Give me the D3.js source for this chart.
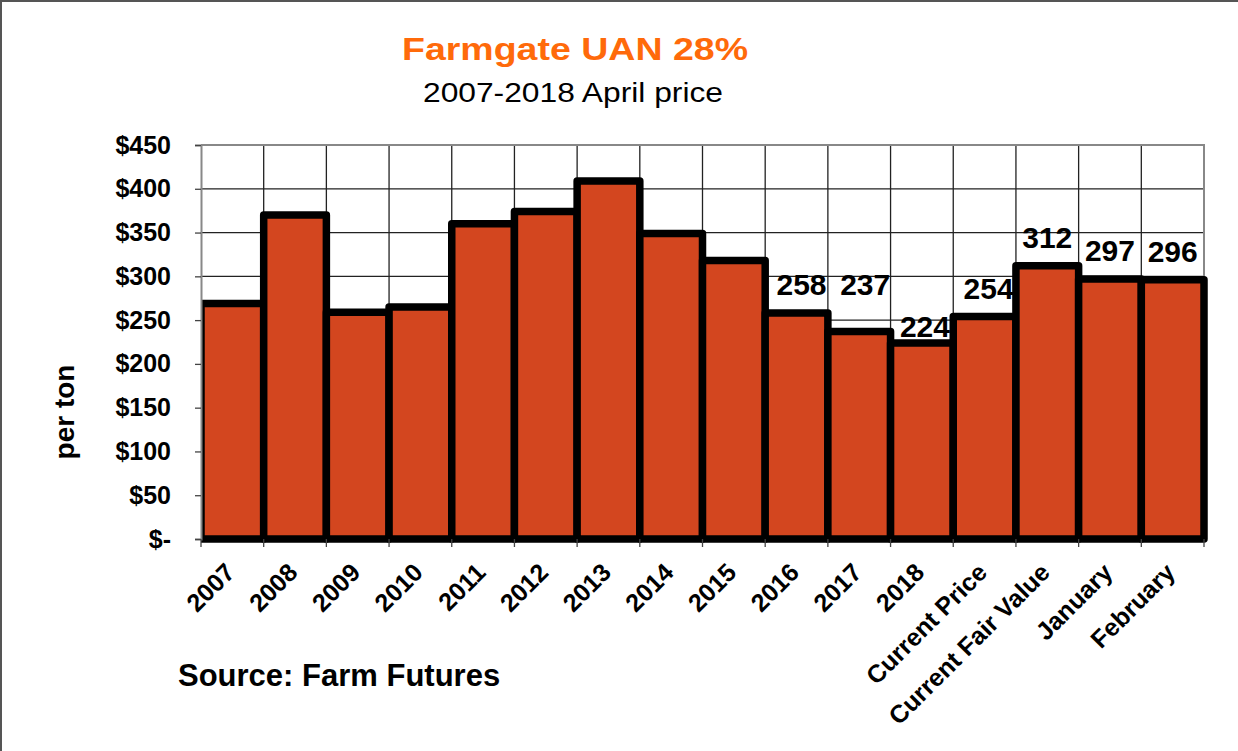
<!DOCTYPE html>
<html>
<head>
<meta charset="utf-8">
<script src="https://cdn.jsdelivr.net/npm/d3@7"></script>
<style>
  body { margin: 0; background: #fff; }
  text { font-family: "Liberation Sans", Arial, sans-serif; }
</style>
</head>
<body>
<svg id="chart" width="1238" height="751"></svg>
<script>
// dati
const categories = ["2007", "2008", "2009", "2010", "2011", "2012", "2013", "2014", "2015",
    "2016", "2017", "2018", "Current Price", "Current Fair Value", "January", "February"];
const prices = [269, 370, 259, 265, 360, 374, 409, 349, 318, 258, 237, 224, 254, 312, 297, 296];
const labelledFrom = 9;          // le etichette compaiono dal 2016 in poi
const yTicks = [0, 50, 100, 150, 200, 250, 300, 350, 400, 450];

const svg = d3.select("#chart");
const W = 1238, H = 751;
const plotLeft = 201, plotRight = 1204, plotTop = 145, plotBottom = 539;

/* bordo esterno */
svg.append("rect")
    .attr("x", 1).attr("y", 1)
    .attr("width", W + 10).attr("height", H + 10)
    .attr("fill", "#fff")
    .attr("stroke", "#555")
    .attr("stroke-width", 2);

/* scale */
const x = d3.scaleBand()
    .domain(categories)
    .range([plotLeft, plotRight])
    .padding(0);

const y = d3.scaleLinear()
    .domain([0, 450])
    .range([plotBottom, plotTop]);

/* griglia orizzontale */
svg.append("g")
    .selectAll("line")
    .data(yTicks.filter(d => d > 0 && d < 450))
    .join("line")
    .attr("x1", plotLeft).attr("x2", plotRight)
    .attr("y1", d => y(d)).attr("y2", d => y(d))
    .attr("stroke", "#222")
    .attr("stroke-width", 1.3);

/* griglia verticale ai confini delle categorie */
svg.append("g")
    .selectAll("line")
    .data(categories.slice(1))
    .join("line")
    .attr("x1", d => x(d)).attr("x2", d => x(d))
    .attr("y1", plotTop).attr("y2", plotBottom)
    .attr("stroke", "#222")
    .attr("stroke-width", 1.3);

/* bordo superiore e destro dell'area del grafico */
svg.append("path")
    .attr("d", `M${plotLeft},${plotTop}H${plotRight}V${plotBottom}`)
    .attr("fill", "none")
    .attr("stroke", "#888")
    .attr("stroke-width", 2);

/* barre, tagliate a sinistra sull'asse */
svg.append("clipPath")
    .attr("id", "clip")
    .append("rect")
    .attr("x", plotLeft).attr("y", 0)
    .attr("width", W).attr("height", H);

svg.append("g")
    .attr("clip-path", "url(#clip)")
    .selectAll("rect")
    .data(prices)
    .join("rect")
    .attr("x", (d, i) => x(categories[i]))
    .attr("y", d => y(d))
    .attr("width", x.bandwidth())
    .attr("height", d => plotBottom - y(d))
    .attr("fill", "#D3461F")
    .attr("stroke", "#000")
    .attr("stroke-width", 7.5)
    .attr("stroke-linejoin", "round");

/* asse Y */
const yAxis = d3.axisLeft(y)
    .tickValues(yTicks)
    .tickSize(6)
    .tickPadding(24)
    .tickFormat(d => d === 0 ? "$-" : "$" + d);

svg.append("g")
    .attr("transform", `translate(${plotLeft},0)`)
    .call(yAxis)
    .call(g => g.select(".domain").attr("stroke", "#888").attr("stroke-width", 2))
    .call(g => g.selectAll(".tick line").attr("stroke", "#444").attr("stroke-width", 1.3))
    .call(g => g.selectAll(".tick text")
        .attr("font-family", "'Liberation Sans', Arial, sans-serif")
        .attr("font-size", 25)
        .attr("font-weight", "bold")
        .attr("fill", "#000"));

/* tacche asse X ai confini */
const bounds = categories.map(c => x(c)).concat([plotRight]);
svg.append("g")
    .selectAll("line")
    .data(bounds)
    .join("line")
    .attr("x1", d => d).attr("x2", d => d)
    .attr("y1", plotBottom).attr("y2", plotBottom + 8)
    .attr("stroke", "#444")
    .attr("stroke-width", 1.3);

/* etichette categorie ruotate */
svg.append("g")
    .selectAll("text")
    .data(categories)
    .join("text")
    .attr("transform", d => `translate(${x(d) + x.bandwidth() / 2 + 4},${plotBottom + 35}) rotate(-45)`)
    .attr("text-anchor", "end")
    .attr("font-size", 25)
    .attr("font-weight", "bold")
    .attr("fill", "#000")
    .text(d => d);

/* etichette dei valori (alcune spostate a mano come nell'originale) */
const labelShift = { "2016": [5, 0], "2017": [6, -18], "2018": [3, 12], "Current Price": [4, 0] };
svg.append("g")
    .selectAll("text")
    .data(prices.map((v, i) => ({ v, c: categories[i], i })).filter(d => d.i >= labelledFrom))
    .join("text")
    .attr("x", d => x(d.c) + x.bandwidth() / 2 + (labelShift[d.c] ? labelShift[d.c][0] : 0))
    .attr("y", d => y(d.v) - 18 + (labelShift[d.c] ? labelShift[d.c][1] : 0))
    .attr("text-anchor", "middle")
    .attr("font-size", 30)
    .attr("font-weight", "bold")
    .attr("fill", "#000")
    .text(d => d.v);

/* titolo */
svg.append("text")
    .attr("x", 575).attr("y", 60)
    .attr("text-anchor", "middle")
    .attr("font-size", 31)
    .attr("font-weight", "bold")
    .attr("fill", "#FF6A0A")
    .attr("textLength", 346)
    .attr("lengthAdjust", "spacingAndGlyphs")
    .text("Farmgate UAN 28%");

svg.append("text")
    .attr("x", 573).attr("y", 102)
    .attr("text-anchor", "middle")
    .attr("font-size", 28)
    .attr("fill", "#000")
    .attr("textLength", 300)
    .attr("lengthAdjust", "spacingAndGlyphs")
    .text("2007-2018 April price");

/* titolo asse Y */
svg.append("text")
    .attr("transform", "translate(74,412) rotate(-90)")
    .attr("text-anchor", "middle")
    .attr("font-size", 28)
    .attr("font-weight", "bold")
    .attr("fill", "#000")
    .text("per ton");

/* fonte */
svg.append("text")
    .attr("x", 178).attr("y", 686)
    .attr("font-size", 31)
    .attr("font-weight", "bold")
    .attr("fill", "#000")
    .text("Source: Farm Futures");
</script>
</body>
</html>
